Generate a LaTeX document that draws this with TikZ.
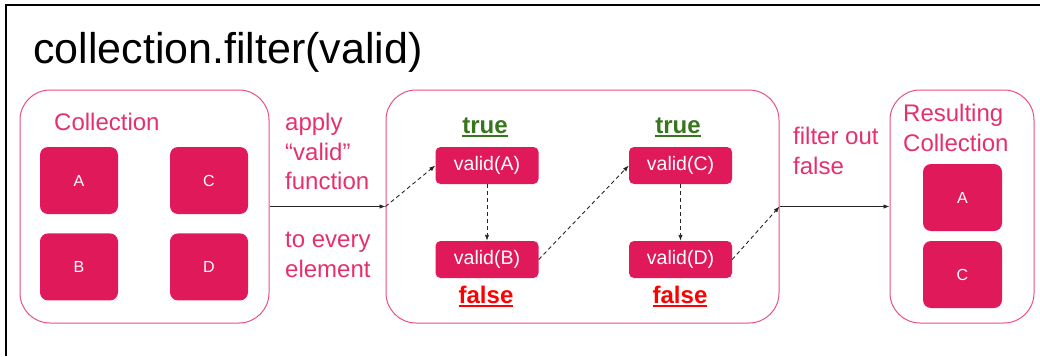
\documentclass[tikz,border=0pt]{standalone}
\usepackage{fontspec}
\setmainfont{Liberation Sans}
\usetikzlibrary{arrows.meta,positioning}
\definecolor{itempink}{HTML}{E0195A}
\definecolor{textpink}{HTML}{E5306C}
\definecolor{boxpink}{HTML}{EA4F80}
\definecolor{truegreen}{HTML}{38761D}
\definecolor{falsered}{HTML}{FF0000}
\newcommand{\ulword}[1]{\setbox0\hbox{#1}\rlap{\vrule height -2.2pt depth 3.8pt width \wd0}\box0}

\begin{document}
\begin{tikzpicture}[
  x=1pt, y=-1pt,
  group/.style={draw=boxpink, line width=1pt, rounded corners=30pt, minimum height=233pt},
  item/.style={fill=itempink, text=white, rounded corners=8pt, minimum width=78pt, minimum height=67pt, font=\fontsize{16}{19}\selectfont},
  call/.style={fill=itempink, text=white, rounded corners=5pt, minimum width=103pt, minimum height=37pt, font=\fontsize{19.5}{22}\selectfont},
  note/.style={text=textpink, align=left, anchor=north west, inner sep=0pt, font=\fontsize{24}{29.5}\selectfont},
  verdict/.style={anchor=base, inner sep=0pt, font=\bfseries\fontsize{24}{28}\selectfont},
  arrow/.style={-{Latex[length=6pt,width=4.5pt]}, line width=0.9pt, draw=black!85},
  flow/.style={arrow, dash pattern=on 4pt off 3pt}
]
\useasboundingbox (0,0) rectangle (1040,356);
\draw[line width=2.5pt] (6,356) -- (6,5) -- (1040,5);

\node[anchor=base west, inner sep=0pt, font=\fontsize{43}{50}\selectfont] (title) at (33,63) {collection.filter(valid)};

% input collection
\node[group, minimum width=249pt] (coll) at (144.5,206.5) {};
\node[note] (collname) at (54,113) {Collection};
\node[item] (a) at (79,180.5) {A};
\node[item] (c) at (209,180.5) {C};
\node[item, below=19pt of a] (b) {B};
\node[item, below=19pt of c] (d) {D};

\node[note] (apply) at (285,113) {apply\\``valid''\\function};
\node[note] (every) at (285,232) {to every\\element};

% predicate calls
\node[group, minimum width=393pt] (fn) at (582.5,206.5) {};
\node[call] (va) at (487,165.5) {valid(A)};
\node[call] (vb) at (487,259.5) {valid(B)};
\node[call] (vc) at (680.5,165.5) {valid(C)};
\node[call] (vd) at (680.5,259.5) {valid(D)};
\node[verdict, text=truegreen] (ta) at (485,133) {\ulword{true}};
\node[verdict, text=truegreen] (tc) at (678,133) {\ulword{true}};
\node[verdict, text=falsered] (fb) at (486,303) {\ulword{false}};
\node[verdict, text=falsered] (fd) at (680,303) {\ulword{false}};

\node[note] (filter) at (793,127) {filter out\\false};

% result
\node[group, minimum width=144pt] (res) at (962,206.5) {};
\node[note] (resname) at (903,104) {Resulting\\Collection};
\node[item, minimum width=79pt] (ra) at (962.5,197.5) {A};
\node[item, minimum width=79pt] (rc) at (962.5,274.5) {C};

\draw[arrow] (coll) -- (fn);
\draw[flow] (fn.west) -- (va.west);
\draw[flow] (va) -- (vb);
\draw[flow] (vb.east) -- (vc.west);
\draw[flow] (vc) -- (vd);
\draw[flow] (vd.east) -- (fn.east);
\draw[arrow] (fn) -- (res);
\end{tikzpicture}
\end{document}
